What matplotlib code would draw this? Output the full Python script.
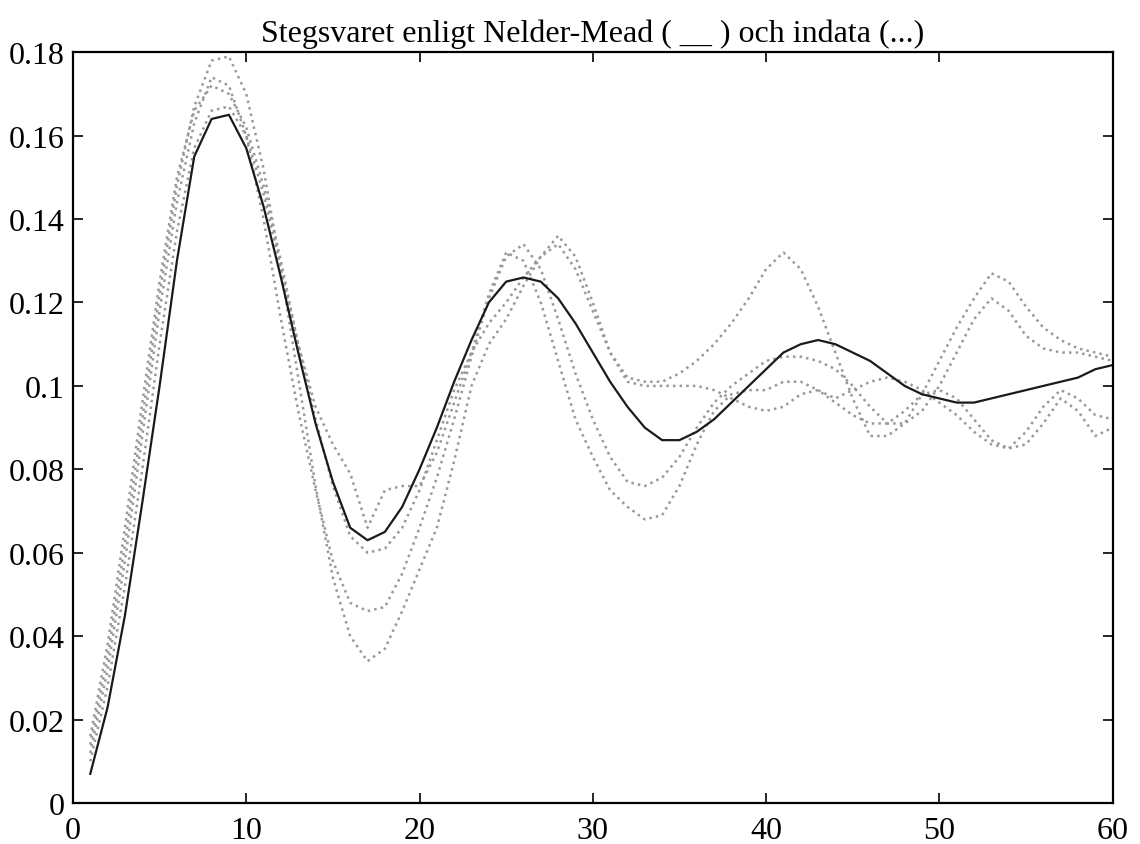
import matplotlib
matplotlib.use("Agg")
import matplotlib.pyplot as plt
from matplotlib.ticker import FuncFormatter
import numpy as np

# time steps
t = np.arange(1, 61)

# step response from Nelder-Mead fit (solid)
model = [0.007, 0.023, 0.045, 0.072, 0.100, 0.130, 0.155, 0.164, 0.165, 0.157,
         0.143, 0.126, 0.108, 0.091, 0.077, 0.066, 0.063, 0.065, 0.071, 0.080,
         0.090, 0.101, 0.111, 0.120, 0.125, 0.126, 0.125, 0.121, 0.115, 0.108,
         0.101, 0.095, 0.090, 0.087, 0.087, 0.089, 0.092, 0.096, 0.100, 0.104,
         0.108, 0.110, 0.111, 0.110, 0.108, 0.106, 0.103, 0.100, 0.098, 0.097,
         0.096, 0.096, 0.097, 0.098, 0.099, 0.100, 0.101, 0.102, 0.104, 0.105]

# measured step responses (dotted)
data_a = [0.014, 0.035, 0.062, 0.092, 0.122, 0.148, 0.167, 0.178, 0.179, 0.170,
          0.152, 0.128, 0.102, 0.076, 0.054, 0.040, 0.034, 0.037, 0.046, 0.056,
          0.066, 0.082, 0.100, 0.110, 0.116, 0.124, 0.131, 0.136, 0.131, 0.120,
          0.108, 0.102, 0.101, 0.101, 0.103, 0.106, 0.110, 0.115, 0.121, 0.128,
          0.132, 0.128, 0.119, 0.108, 0.097, 0.088, 0.088, 0.091, 0.098, 0.106,
          0.114, 0.121, 0.127, 0.125, 0.119, 0.114, 0.111, 0.109, 0.108, 0.107]

data_b = [0.012, 0.032, 0.058, 0.088, 0.118, 0.144, 0.163, 0.174, 0.172, 0.160,
          0.140, 0.116, 0.094, 0.075, 0.058, 0.048, 0.046, 0.047, 0.055, 0.066,
          0.078, 0.092, 0.107, 0.121, 0.131, 0.134, 0.128, 0.116, 0.103, 0.092,
          0.083, 0.077, 0.076, 0.078, 0.083, 0.090, 0.096, 0.100, 0.103, 0.106,
          0.107, 0.107, 0.106, 0.104, 0.100, 0.095, 0.091, 0.091, 0.094, 0.100,
          0.108, 0.116, 0.121, 0.118, 0.112, 0.109, 0.108, 0.108, 0.107, 0.106]

data_c = [0.010, 0.028, 0.052, 0.080, 0.110, 0.137, 0.157, 0.166, 0.167, 0.160,
          0.146, 0.128, 0.110, 0.095, 0.086, 0.079, 0.066, 0.075, 0.076, 0.076,
          0.084, 0.096, 0.108, 0.122, 0.132, 0.130, 0.120, 0.106, 0.092, 0.083,
          0.075, 0.071, 0.068, 0.069, 0.076, 0.086, 0.094, 0.098, 0.099, 0.099,
          0.101, 0.101, 0.099, 0.097, 0.099, 0.101, 0.102, 0.101, 0.099, 0.096,
          0.093, 0.089, 0.086, 0.085, 0.089, 0.095, 0.099, 0.097, 0.093, 0.092]

data_d = [0.016, 0.038, 0.066, 0.096, 0.125, 0.150, 0.166, 0.172, 0.170, 0.162,
          0.148, 0.130, 0.110, 0.092, 0.076, 0.064, 0.060, 0.061, 0.066, 0.075,
          0.087, 0.099, 0.108, 0.115, 0.120, 0.126, 0.131, 0.134, 0.128, 0.118,
          0.108, 0.101, 0.100, 0.100, 0.100, 0.100, 0.099, 0.097, 0.095, 0.094,
          0.095, 0.098, 0.099, 0.096, 0.093, 0.091, 0.091, 0.094, 0.098, 0.099,
          0.097, 0.092, 0.087, 0.085, 0.086, 0.091, 0.097, 0.094, 0.088, 0.090]

xticks = [0, 10, 20, 30, 40, 50, 60]
yticks = [0, 0.02, 0.04, 0.06, 0.08, 0.1, 0.12, 0.14, 0.16, 0.18]

plt.rcParams['font.family'] = ['Liberation Serif', 'DejaVu Serif']

fig = plt.figure(figsize=(11.4, 8.45), dpi=100)
ax = fig.add_axes([0.064, 0.0485, 0.912, 0.8885])

for d in (data_a, data_b, data_c, data_d):
    ax.plot(t, d, ':', color='0.6', lw=1.8)
ax.plot(t, model, '-', color='#1a1a1a', lw=1.6)

ax.set_xlim(0, 60)
ax.set_ylim(0, 0.18)
ax.set_xticks(xticks)
ax.set_yticks(yticks)
ax.yaxis.set_major_formatter(FuncFormatter(lambda v, p: '%g' % v))
ax.tick_params(direction='in', length=7, width=1.2, top=True, right=True,
               labelsize=23)
ax.tick_params(axis='x', pad=9)
ax.tick_params(axis='y', pad=6)
for s in ax.spines.values():
    s.set_linewidth(1.6)

ax.set_title('Stegsvaret enligt Nelder-Mead ( __ ) och indata (...)',
             fontsize=23, pad=8)

fig.savefig('out.png', dpi=100)
